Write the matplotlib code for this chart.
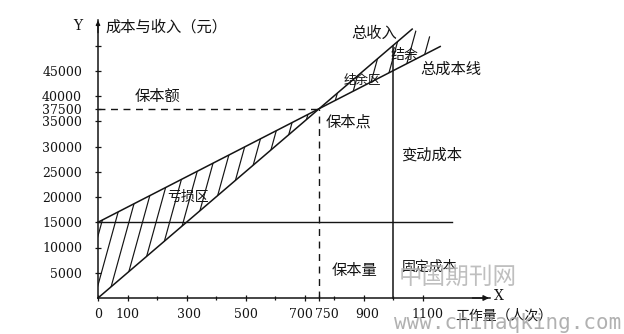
import numpy as np
import matplotlib
matplotlib.use("Agg")
import matplotlib.pyplot as plt
from matplotlib.collections import LineCollection
from matplotlib.patches import Polygon
from matplotlib.transforms import ScaledTranslation

# Break-even model
fixed_cost = 15000          # 固定成本 (元)
unit_cost = 30              # 变动成本 per 人次
unit_price = 50             # 收入 per 人次
break_even_qty = 750        # 保本量
break_even_amt = 37500      # 保本额
capacity_qty = 1000         # 实际工作量
revenue_end_qty = 1065
cost_end_qty = 1160
fixed_end_qty = 1200

x_tick_values = [0, 100, 300, 500, 700, 750, 900, 1100]
x_minor_values = [100, 200, 300, 400, 500, 600, 700, 800, 900, 1000]
y_tick_values = [5000, 10000, 15000, 20000, 25000, 30000, 35000, 37500, 40000, 45000]
y_extra_tick = [50000]

CJK = ["Noto Sans CJK SC", "DejaVu Sans"]
NUM = "DejaVu Serif"
INK = "#141414"

def revenue(q):
    return unit_price * np.asarray(q, dtype=float)

def total_cost(q):
    return fixed_cost + unit_cost * np.asarray(q, dtype=float)

# pixel scale of the drawing (px per unit)
sx, sy = 0.295, 0.00505
fig = plt.figure(figsize=(6.24, 3.34), dpi=100)
ax = fig.add_axes([0, 0, 1, 1])
ax.set_xlim(-98 / sx, 526 / sx)
ax.set_ylim(-36 / sy, 298 / sy)
ax.patch.set_alpha(0)

# axes through the origin
for side in ("top", "right"):
    ax.spines[side].set_visible(False)
ax.spines["left"].set_position(("data", 0))
ax.spines["bottom"].set_position(("data", 0))
ax.spines["left"].set_bounds(0, 55000)
ax.spines["bottom"].set_bounds(0, 1330)
for s in ("left", "bottom"):
    ax.spines[s].set_linewidth(1.1)
    ax.spines[s].set_color(INK)
ax.annotate("", xy=(1335, 0), xytext=(1260, 0),
            arrowprops=dict(arrowstyle="-|>", color=INK, lw=1.0,
                            mutation_scale=8))
ax.annotate("", xy=(0, 55500), xytext=(0, 52000),
            arrowprops=dict(arrowstyle="-|>", color=INK, lw=1.0,
                            mutation_scale=6))

ax.set_xticks(x_tick_values)
ax.set_xticklabels([str(v) for v in x_tick_values])
ax.set_xticks(x_minor_values, minor=True)
ax.set_yticks(y_tick_values + y_extra_tick)
ax.set_yticklabels([str(v) for v in y_tick_values] + [""])
ax.tick_params(axis="both", which="both", direction="inout", color=INK,
               width=0.9, labelcolor=INK)
ax.tick_params(axis="y", length=5, pad=9, labelsize=9)
ax.tick_params(axis="x", which="major", length=4, pad=5, labelsize=9)
ax.tick_params(axis="x", which="minor", length=3)
for lab in ax.get_xticklabels() + ax.get_yticklabels():
    lab.set_fontfamily(NUM)

label_shift = {"700": -4, "750": 8, "900": 4, "1100": 5, "300": 3}
for lab in ax.get_xticklabels():
    dx = label_shift.get(lab.get_text(), 0)
    if dx:
        lab.set_transform(lab.get_transform()
                          + ScaledTranslation(dx / 100, 0, fig.dpi_scale_trans))

# lines of the model
q_rev = np.array([0, revenue_end_qty])
q_cost = np.array([0, cost_end_qty])
ax.plot(q_rev, revenue(q_rev), color=INK, lw=1.1)
ax.plot(q_cost, total_cost(q_cost), color=INK, lw=1.1)
ax.plot([0, fixed_end_qty], [fixed_cost, fixed_cost], color=INK, lw=1.0)
ax.plot([capacity_qty, capacity_qty], [0, revenue(capacity_qty)], color=INK, lw=1.1)
ax.plot([0, break_even_qty], [break_even_amt, break_even_amt], color=INK,
        lw=1.0, dashes=(5, 4))
ax.plot([break_even_qty, break_even_qty], [0, break_even_amt], color=INK,
        lw=1.0, dashes=(5, 4))

# steep hatching, clipped to the loss and surplus regions
def hatch(poly_pts, start, stop, step):
    poly = Polygon(poly_pts, closed=True, fill=False, edgecolor="none")
    ax.add_patch(poly)
    slope = 212.0
    segs = []
    for x0 in np.arange(start, stop, step):
        segs.append([(x0, 0), (x0 + 60000 / slope, 60000)])
    lc = LineCollection(segs, colors=INK, linewidths=0.85)
    ax.add_collection(lc)
    lc.set_clip_path(poly)

loss_pts = [(0, 0), (0, fixed_cost), (break_even_qty, break_even_amt)]
hatch(loss_pts, -150, 760, 46)

profit_pts = [(break_even_qty, break_even_amt),
              (revenue_end_qty, float(revenue(revenue_end_qty))),
              (1135, float(total_cost(1135)) + 2500),
              (1135, float(total_cost(1135)))]
hatch(profit_pts, 620, 1140, 52)

# annotations
def cjk(x, y, s, size=11, **kw):
    ax.text(x, y, s, fontsize=size, family=CJK, color=INK,
            ha=kw.pop("ha", "center"), va="center", fontweight="medium",
            zorder=4, **kw)

def px(xp, yp):
    return (xp - 98) / sx, (298 - yp) / sy

cjk(*px(105, 27), "成本与收入（元）", ha="left")
cjk(*px(158, 96), "保本额")
cjk(*px(188, 197), "亏损区", size=10)
cjk(*px(349, 122), "保本点")
cjk(*px(374, 33), "总收入")
cjk(*px(404, 55), "结余", size=10)
cjk(*px(362, 80), "结余区", size=9)
cjk(*px(451, 69), "总成本线")
cjk(*px(432, 155), "变动成本")
cjk(*px(355, 270), "保本量")
cjk(*px(430, 267), "固定成本", size=10)
cjk(*px(455, 316), "工作量（人次）", size=10, ha="left")
ax.text(*px(499, 296), "X", fontsize=10, family=NUM, color=INK,
        ha="center", va="center")
ax.text(*px(78, 26), "Y", fontsize=10, family=NUM, color=INK,
        ha="center", va="center")

# site watermark
ax.text(*px(458, 277), "中国期刊网", fontsize=17, family=CJK, color="#b4b4b4",
        ha="center", va="center", alpha=0.85, zorder=5)
ax.text(*px(508, 323), "www.chinaqking.com", fontsize=15,
        family="DejaVu Sans Mono", color="#a4a4a4", ha="center", va="center",
        alpha=0.85, zorder=5)

fig.savefig("out.png", dpi=100)
